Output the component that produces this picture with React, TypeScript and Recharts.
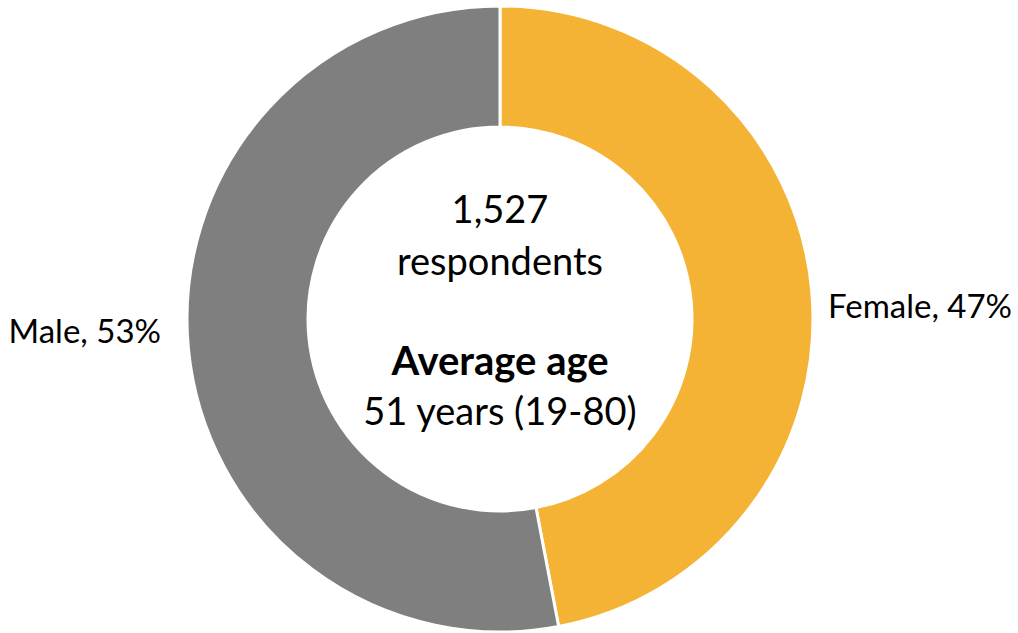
import React from 'react';
import { PieChart, Pie, Cell, Label } from 'recharts';

const categories = ['Female', 'Male'];
const shares = [47, 53];
const colors = ['#F5B335', '#7F7F7F'];
const centerLines = ['1,527', 'respondents', 'Average age', '51 years (19-80)'];

const data = categories.map((name, i) => ({ name, value: shares[i] }));

const FONT = 'Lato, "Open Sans", sans-serif';
const CX = 500;
const CY = 319;

function renderLabel(props: any) {
  const { cx, cy, midAngle, outerRadius, name, value } = props;
  const rad = (Math.PI / 180) * midAngle;
  const right = Math.cos(rad) >= 0;
  const x = right ? cx + outerRadius + 15 : cx - outerRadius - 26;
  const y = right ? cy - 14 : cy + 11;
  return (
    <text
      x={x}
      y={y}
      textAnchor={right ? 'start' : 'end'}
      dominantBaseline="central"
      fontFamily={FONT}
      fontSize={33}
      fill="#000"
    >
      {`${name}, ${value}%`}
    </text>
  );
}

function CenterText() {
  return (
    <g fontFamily={FONT} fontSize={38} fill="#000" textAnchor="middle">
      <text x={CX} y={CY - 111} dominantBaseline="central">{centerLines[0]}</text>
      <text x={CX} y={CY - 59} dominantBaseline="central">{centerLines[1]}</text>
      <text x={CX} y={CY + 41} dominantBaseline="central" fontWeight="bold" fontSize={40}>{centerLines[2]}</text>
      <text x={CX} y={CY + 91} dominantBaseline="central">{centerLines[3]}</text>
    </g>
  );
}

export default function App() {
  return (
    <div style={{ position: 'absolute', left: 0, top: 0, width: 1018, height: 633, background: '#fff' }}>
      <PieChart width={1018} height={633} margin={{ top: 0, right: 0, bottom: 0, left: 0 }}>
        <Pie
          data={data}
          dataKey="value"
          nameKey="name"
          cx={CX}
          cy={CY}
          innerRadius={192}
          outerRadius={313}
          startAngle={90}
          endAngle={-270}
          stroke="#fff"
          strokeWidth={3}
          label={renderLabel}
          labelLine={false}
          isAnimationActive={false}
        >
          {data.map((entry, index) => (
            <Cell key={`cell-${index}`} fill={colors[index]} />
          ))}
          <Label position="center" content={<CenterText />} />
        </Pie>
      </PieChart>
    </div>
  );
}
